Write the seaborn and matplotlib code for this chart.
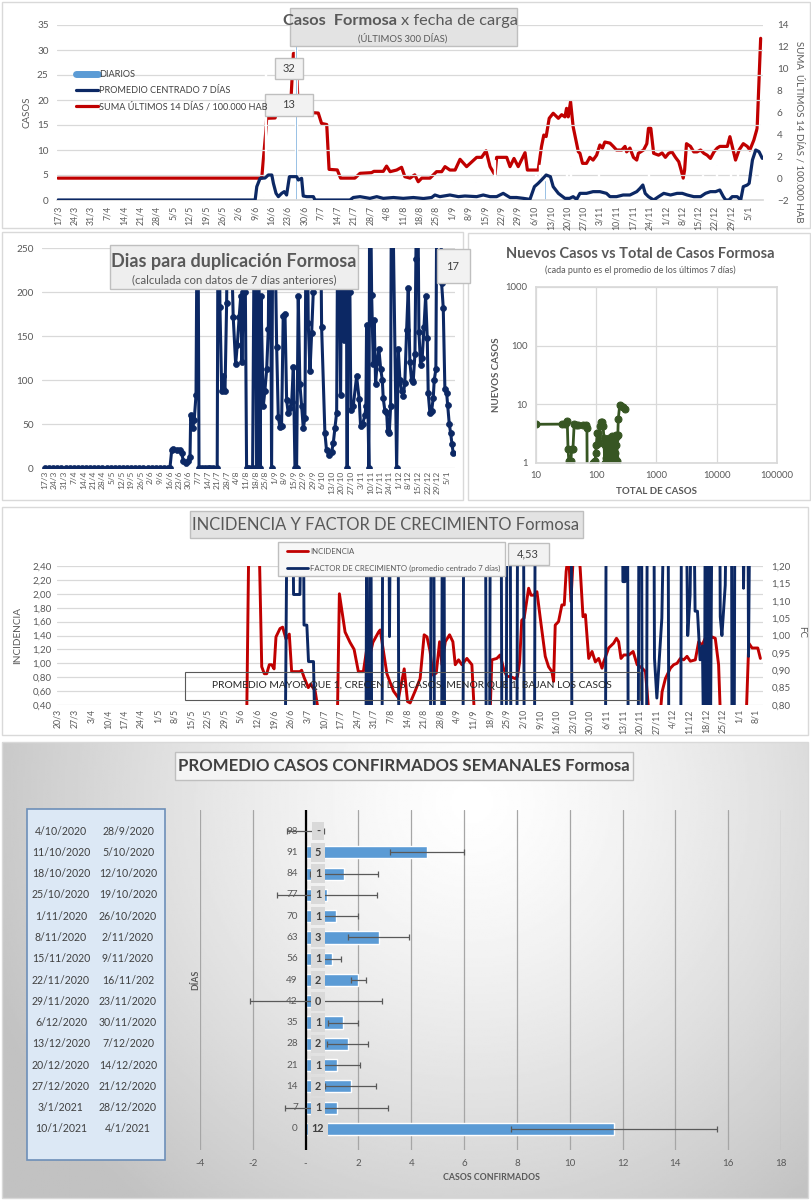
import numpy as np
import pandas as pd
import matplotlib
matplotlib.use("Agg")
import matplotlib.pyplot as plt
import matplotlib.ticker as mticker
import matplotlib.transforms as mtransforms
from matplotlib.patches import Rectangle
from matplotlib.lines import Line2D
import seaborn as sns

sns.set_theme(style="white")
plt.rcParams['font.family'] = ['Lato', 'DejaVu Sans']

# ====================== DATA ======================
# Panel 1 : Casos Formosa x fecha de carga (day 0 = 17/3/2020)
p1_start = "2020-03-17"
p1_bars = [(87.5, 0.7), (88.5, 26), (89.3, 6), (90.2, 1), (93.2, 4), (95, 1), (98.2, 6), (101.4, 32),
           (105.7, 4), (106.5, 1), (112, 1), (125.5, 1), (127, 1), (128, 1), (131, 1), (136, 1), (140, 2),
           (143, 1), (146, 1), (150, 1), (156, 1.5), (159, 2), (160, 1), (165, 1), (169, 4), (172, 1),
           (175, 1), (178, 3.7), (180, 1), (183, 1.5), (186, 8), (189, 1), (192, 1), (195, 1), (199, 2),
           (201, 1), (203.5, 5), (205.1, 7), (206.5, 7.7), (207.5, 4), (209.2, 7.7), (211, 3), (213, 2),
           (216.5, 6), (218.2, 6.8), (221, 1.5), (224.5, 2), (227, 1), (230.2, 7), (232, 2), (235, 1),
           (238.7, 2), (241, 1), (243, 1.5), (245.8, 2), (247, 1), (249.4, 2.5), (251.6, 9), (253, 1),
           (256.6, 2), (258, 1), (260.6, 4), (262, 1), (264.9, 3.7), (266.2, 3.7), (267.8, 3.7), (270, 1),
           (272, 1.5), (274.5, 5), (276, 1), (278.7, 2), (280.6, 7), (283, 1), (285, 1), (286.5, 7),
           (288, 1), (289.7, 6), (292, 1), (293.5, 2), (294.8, 2), (296.5, 5), (297.9, 3), (298.9, 15),
           (299.8, 20)]
p1_avg = [(0, 0), (84, 0), (84.7, 2.67), (86.1, 4.33), (88.2, 4.4), (89.6, 5.0), (91.1, 5.0), (91.8, 3.3),
          (92.9, 1.33), (93.9, 0.67), (95.3, 1.33), (96.4, 1.67), (97.4, 1.0), (98.6, 4.67), (101.7, 4.67),
          (102.4, 4.0), (103.8, 4.33), (104.5, 0.8), (106, 0.67), (108.8, 0.67), (109.5, 0), (124.4, 0),
          (125.8, 0.5), (128.7, 0.67), (132.9, 0.33), (135.8, 0.67), (138.6, 0.33), (142.9, 0.5),
          (147.1, 0.33), (151.4, 0.5), (155.7, 0.3), (159.2, 0.5), (160.6, 1.0), (162.7, 0.67), (167, 1.0),
          (170.6, 0.67), (173.4, 0.8), (178.4, 0.67), (181.2, 1.0), (184.1, 0.67), (186.9, 0.67),
          (189.7, 1.33), (192.6, 0.5), (195.4, 0.5), (198.3, 0.33), (201.1, 0.13), (203, 2.67),
          (204.6, 3.33), (206, 4.0), (208, 5.0), (209.8, 4.67), (211, 2.67), (213.2, 1.33), (216, 0.33),
          (218, 0.33), (219.5, 0.67), (221, 0.13), (222.4, 1.33), (225.2, 1.33), (228, 1.67), (230.9, 1.67),
          (233.7, 1.33), (235.2, 0.67), (238, 0.67), (240.8, 1.0), (243.7, 1.0), (246.6, 1.67), (248, 2.33),
          (249.2, 3.0), (250.2, 1.33), (251.6, 0.67), (253.8, 0), (255.9, 0.67), (258.1, 1.33), (261, 1.0),
          (263.8, 1.33), (266, 1.33), (268.1, 1.0), (270.9, 0.67), (273.8, 0.67), (275.9, 1.33), (278, 1.67),
          (280.2, 1.67), (282, 2.0), (283.5, 0.67), (284.5, 0), (285.9, 0), (287.3, 0.67), (289.4, 0.67),
          (290.9, 0), (292, 2.67), (293.7, 3.0), (294.5, 3.33), (295.9, 8.0), (297.3, 10.0), (298.7, 9.67),
          (300.1, 8.33)]
p1_sum = [(0, 0.0), (86.8, 0.0), (88.6, 4.4), (88.9, 5.47), (92.5, 5.5), (93.2, 6.07), (99.0, 6.1),
          (100.3, 11.4), (101.4, 11.4), (102.4, 6.07), (110.9, 5.95), (112.3, 5.0), (114.5, 4.9), (115.5, 0.8),
          (119, 0.75), (120.4, 0.0), (126.5, 0.0), (128.7, 0.44), (133.6, 0.5), (134.6, 0.62), (138.6, 0.62),
          (140, 1.1), (141.5, 0.59), (144.3, 0.74), (146.4, 0.99), (147.8, 0.13), (150, 0.0), (152, 0.3),
          (153.5, -0.33), (155, 0.0), (158.5, 0.0), (161.3, 0.59), (163.5, 0.59), (164.9, 1.05), (167, 0.74),
          (169.2, 0.74), (171.3, 1.72), (174.1, 1.05), (178.4, 1.9), (180.5, 1.9), (182.4, 2.5), (184.1, 1.05),
          (186.2, 0.28), (186.9, 1.9), (191.2, 1.9), (192.6, 1.05), (194.3, 1.8), (196.1, 1.05), (199, 2.33),
          (200, 0.74), (204.6, 0.74), (206, 2.87), (207, 3.94), (208, 3.8), (209.3, 5.47), (211, 5.93),
          (213.2, 5.47), (214.6, 5.8), (216, 5.6), (216.7, 6.38), (217.4, 5.6), (218.4, 7.0), (219.5, 4.7),
          (221.7, 2.42), (222.4, 2.27), (223.5, 1.35), (225.2, 1.35), (226.6, 1.9), (228, 1.65), (229.5, 2.1),
          (230.9, 3.03), (232, 2.75), (233, 3.3), (235.2, 3.2), (236.6, 2.9), (238, 2.57), (240.2, 2.57),
          (241.6, 2.9), (242.3, 2.4), (243.7, 2.75), (245.2, 1.9), (246.6, 1.65), (247.3, 2.27), (249.5, 2.57),
          (250.9, 3.15), (251.6, 4.55), (252.6, 4.55), (253.8, 2.27), (255.9, 2.1), (257.4, 2.3), (258.8, 1.9),
          (260.2, 2.27), (261.6, 2.4), (263.1, 1.9), (264.5, 1.5), (265.5, 0.74), (266.4, 0.0), (267, 0.74),
          (267.8, 3.15), (269.5, 2.9), (270.9, 2.4), (272.3, 2.4), (273.8, 2.57), (275.2, 2.27), (276.6, 2.1),
          (278, 1.8), (279.5, 2.4), (280.9, 2.75), (282, 2.9), (283.7, 2.9), (285.2, 2.9), (286.3, 3.79),
          (287.3, 2.9), (288.7, 1.65), (290.2, 2.57), (292, 3.15), (293.7, 2.9), (294.8, 2.57), (296.5, 3.48),
          (297.9, 4.55), (299.4, 12.78)]
p1_callouts = ["32", "13"]

# Panel 2 left : Dias para duplicación (day 0 = 17/3/2020)
p2_dup = [(0, 0), (3, 0), (6, 0), (9, 0), (12, 0), (15, 0), (18, 0), (21, 0), (24, 0), (27, 0), (30, 0),
          (33, 0), (36, 0), (39, 0), (42, 0), (45, 0), (48, 0), (51, 0), (54, 0), (57, 0), (60, 0), (63, 0),
          (66, 0), (69, 0), (72, 0), (75, 0), (78, 0), (81, 0), (84, 0), (87, 0), (90, 0), (91.4, 0),
          (92.7, 20), (93.9, 22), (96.3, 20), (98.8, 20), (100, 17), (101.2, 8), (102.9, 6), (104.8, 8),
          (106.1, 12), (106.6, 60), (108, 45), (109.2, 55), (110.5, 83), (111.7, 400), (112.7, 0), (115, 0),
          (117, 0), (119, 0), (121, 0), (123, 0), (126, 0), (126.8, 400), (128, 183), (129.3, 87),
          (130.4, 105), (131.7, 87), (132.9, 187), (134.1, 400), (137.7, 172), (139.5, 118), (140.7, 140),
          (142.1, 172), (143.2, 195), (144.1, 120), (145.1, 200), (146.6, 200), (147.5, 0), (149, 0),
          (151.9, 0), (153.6, 400), (154.8, 0), (156, 400), (157.3, 0), (158, 195), (159.7, 70), (160.9, 88),
          (162.2, 112), (163.4, 158), (164.6, 400), (165.8, 0), (167, 400), (169.5, 138), (170.7, 58),
          (171.9, 47), (173.1, 48), (174.3, 173), (175.6, 175), (176.8, 77), (178, 62), (179.2, 68),
          (180.5, 75), (181.7, 115), (182.9, 0), (184.1, 0), (185.3, 196), (186.5, 95), (187.8, 70),
          (189, 45), (190.2, 57), (191.4, 400), (192.6, 165), (193.9, 110), (195.1, 153), (196.3, 200),
          (197.5, 400), (199.5, 250), (201, 400), (202.4, 160), (204.8, 40), (206, 20), (208, 15),
          (209.7, 18), (210.9, 28), (212.1, 45), (213.4, 63), (214.6, 400), (216.3, 83), (217.5, 400),
          (218.7, 145), (220, 400), (221.1, 0), (221.9, 400), (223.1, 200), (223.8, 66), (225.5, 70),
          (228, 104), (229.9, 78), (230.9, 48), (232.4, 50), (234.1, 60), (234.8, 70), (235.3, 163),
          (237, 0), (237.7, 400), (239, 197), (240.2, 118), (240.9, 168), (241.9, 96), (243.1, 120),
          (244.3, 135), (245.6, 113), (246.8, 100), (247.5, 79), (248.7, 65), (250, 63), (250.7, 42),
          (251.9, 40), (252.9, 70), (253.6, 400), (257.3, 0), (258.5, 135), (259.7, 100), (260.9, 88),
          (262.1, 82), (263.3, 97), (264.6, 157), (265.8, 205), (267, 120), (268.2, 100), (269.4, 98),
          (270.7, 130), (271.4, 237), (272.4, 400), (273.6, 155), (274.8, 117), (276, 125), (277.3, 160),
          (278.5, 195), (279.7, 148), (280.4, 85), (281.6, 63), (282.9, 65), (284.1, 80), (284.8, 100),
          (286, 112), (287, 400), (289, 400), (290.2, 210), (291.4, 182), (292.6, 90), (293.9, 85),
          (294.6, 72), (295.8, 50), (296.8, 40), (297.8, 27), (298.7, 17)]
p2_callout = "17"

# Panel 2 right : Nuevos casos vs total de casos (log-log)
p2_total = [10, 27, 30, 32, 33, 34, 35, 37, 38, 39, 41, 43, 46, 50, 60, 68, 70, 70, 71,
            88, 92, 96, 98, 100, 104, 108, 112, 116, 120, 125, 130, 134, 138, 141, 143, 145, 148, 150,
            153, 156, 158, 160, 163, 166, 169, 172, 175, 178, 181, 184, 187, 190, 193, 196, 199, 202,
            205, 208, 212, 216, 220, 224, 228, 232, 245, 262, 280, 300]
p2_nuevos = [4.57, 4.6, 4.7, 4.9, 5.1, 1.75, 1.1, 1.05, 1.1, 1.7, 1.7, 4.6, 4.5, 4.5, 4.5, 4.4, 4.2, 3.6, 0.3,
             1.0, 1.05, 1.1, 1.5, 2.0, 3.2, 3.3, 2.2, 4.2, 5.0, 5.0, 4.2, 2.7, 1.0, 2.0, 1.2, 2.5, 1.0, 0.6,
             1.6, 1.1, 2.3, 1.3, 2.7, 1.0, 0.7, 1.5, 2.0, 1.2, 2.9, 2.7, 1.0, 1.8, 2.8, 1.4, 0.8, 1.5,
             2.6, 1.2, 3.0, 2.0, 1.1, 2.9, 3.0, 5.56, 9.75, 9.3, 8.9, 8.3]

# Panel 3 : Incidencia y factor de crecimiento (day 0 = 20/3/2020)
p3_start = "2020-03-20"
p3_inc = [(79.5, 0.3), (80.3, 2.6), (84.8, 2.6), (85.8, 0.95), (86.9, 0.85), (87.9, 0.85), (89.0, 0.98),
          (90.0, 0.98), (91.0, 0.92), (91.8, 1.38), (93.5, 1.50), (94.6, 1.52), (96.0, 1.35), (97.4, 1.42),
          (98.4, 0.88), (101.9, 0.88), (102.6, 0.90), (103.6, 0.80), (105.4, 0.65), (106.4, 0.70),
          (108.3, 0.60), (109.7, 0.30), (117.7, 0.30), (118.5, 2.00), (120.9, 1.45), (123.0, 1.30),
          (124.7, 1.20), (126.5, 0.88), (128.6, 0.88), (130.0, 1.20), (131.4, 1.12), (132.6, 1.30),
          (135.0, 1.45), (135.7, 1.48), (138.5, 0.85), (139.6, 0.75), (141.3, 0.60), (143.4, 0.50),
          (145.8, 0.92), (147.2, 0.45), (148.3, 0.43), (150.4, 0.60), (152.5, 0.78), (154.2, 1.41),
          (155.4, 1.38), (156.7, 1.17), (157.9, 0.83), (159.3, 0.86), (160.7, 1.31), (161.7, 0.98),
          (163.1, 1.31), (164.9, 1.41), (166.3, 1.31), (167.3, 0.98), (168.7, 1.05), (170.1, 0.98),
          (172.2, 1.07), (174.3, 0.98), (175.3, 0.30), (182.0, 0.30), (182.7, 1.05), (184.8, 1.07),
          (186.2, 1.12), (187.6, 0.93), (189.0, 0.81), (190.4, 0.81), (192.5, 0.78), (193.5, 0.81),
          (194.4, 1.02), (195.3, 1.62), (196.3, 1.65), (198.2, 2.08), (199.2, 1.98), (200.3, 1.98),
          (201.7, 2.03), (203.1, 1.65), (205.2, 1.10), (206.6, 0.95), (208.0, 0.88), (208.7, 0.74),
          (209.4, 1.55), (210.8, 1.60), (212.2, 1.84), (213.2, 1.84), (214.0, 2.32), (215.0, 2.60),
          (216.0, 1.89), (217.1, 2.60), (219.2, 2.60), (219.9, 2.37), (221.1, 1.67), (222.1, 1.70),
          (223.5, 1.07), (224.9, 1.17), (226.3, 1.02), (227.7, 1.07), (229.1, 0.93), (229.8, 1.02),
          (231.9, 1.22), (234.0, 1.29), (235.2, 1.36), (236.1, 1.31), (237.1, 1.07), (238.3, 1.12),
          (240.4, 1.12), (242.2, 1.17), (243.9, 0.98), (246.0, 0.93), (247.4, 0.88), (248.8, 0.30),
          (253.7, 0.30), (254.4, 0.59), (255.8, 0.78), (257.9, 0.93), (259.3, 0.98), (260.7, 1.00),
          (262.1, 1.07), (263.5, 1.05), (264.9, 1.10), (266.3, 1.03), (268.4, 1.05), (269.8, 1.31),
          (271.2, 1.26), (272.6, 1.36), (274.0, 1.31), (275.4, 1.38), (276.8, 1.36), (278.2, 0.98),
          (278.9, 0.30), (289.9, 0.30), (290.9, 1.29), (292.3, 1.22), (293.7, 1.22), (294.7, 1.22),
          (295.8, 1.07)]
p3_fc = [(95.5, 0.5), (96.6, 1.5), (98.8, 1.5), (99.2, 1.118), (101.9, 1.118), (102.6, 1.5), (103.3, 1.5),
         (103.6, 1.03), (104.8, 1.03), (105.5, 0.925), (107.6, 0.925), (108.8, 0.5), (129.6, 0.5),
         (130.1, 1.5), (130.6, 0.5), (131.3, 0.5), (131.7, 1.5), (132.2, 0.5), (136.4, 0.5), (136.8, 1.5),
         (139.3, 1.5), (139.6, 0.997), (140.1, 1.5), (143.2, 1.5), (143.6, 0.5), (156.8, 0.5), (157.2, 1.5),
         (158.2, 1.5), (158.6, 0.5), (161.5, 0.5), (161.9, 1.5), (162.5, 1.5), (162.9, 0.5), (170.5, 0.5),
         (170.9, 1.5), (180.0, 1.5), (180.4, 0.5), (181.7, 0.5), (182.1, 1.5), (186.6, 1.5), (187.0, 0.5),
         (188.7, 0.5), (189.1, 1.5), (190.4, 1.5), (190.8, 0.5), (193.2, 0.5), (193.6, 1.5), (196.0, 1.5),
         (196.4, 0.5), (200.6, 0.5), (201.0, 1.5), (216.1, 1.5), (216.5, 0.5), (230.5, 0.5), (230.9, 1.5),
         (237.6, 1.5), (237.9, 1.155), (238.8, 1.155), (239.2, 1.5), (239.8, 1.5), (240.2, 0.5),
         (244.3, 0.5), (244.7, 1.5), (245.7, 1.5), (246.1, 0.5), (247.8, 0.5), (248.2, 1.5), (250.9, 1.5),
         (251.2, 0.934), (252.2, 0.82), (254.3, 1.05), (255.5, 1.5), (256.9, 1.5), (257.3, 0.5),
         (262.2, 0.5), (262.6, 1.5), (264.4, 1.5), (265.2, 1.0), (266.2, 1.117), (266.9, 1.5), (267.6, 1.5),
         (268.3, 1.07), (269.3, 1.07), (270.4, 0.93), (271.4, 0.97), (272.2, 0.5), (272.6, 1.5),
         (273.3, 0.5), (273.9, 1.5), (274.6, 0.5), (275.5, 1.5), (278.6, 1.5), (278.9, 1.054), (279.6, 1.0),
         (281.0, 1.145), (281.7, 1.5), (283.6, 1.5), (283.9, 0.5), (284.7, 0.5), (285.1, 1.5), (288.4, 1.5),
         (288.7, 1.136), (289.4, 1.5), (290.5, 1.5), (290.8, 0.94), (291.5, 1.5), (295.8, 1.5)]
p3_callout = "4,53"
p3_note = "PROMEDIO MAYOR QUE 1, CRECEN LOS CASOS, MENOR QUE 1, BAJAN LOS CASOS"

# Panel 4 : Promedio casos confirmados semanales
p4_dias = ["98", "91", "84", "77", "70", "63", "56", "49", "42", "35", "28", "21", "14", "7", "0"]
p4_prom = [0.0, 4.6, 1.44, 0.82, 1.14, 2.76, 1.0, 2.0, 0.41, 1.41, 1.6, 1.17, 1.7, 1.17, 11.67]
p4_err = [0.7, 1.4, 1.29, 1.9, 0.86, 1.15, 0.35, 0.3, 2.5, 0.58, 0.78, 0.9, 0.95, 1.95, 3.9]
p4_etiq = ["-", "5", "1", "1", "1", "3", "1", "2", "0", "1", "2", "1", "2", "1", "12"]
p4_fin = ["4/10/2020", "11/10/2020", "18/10/2020", "25/10/2020", "1/11/2020", "8/11/2020", "15/11/2020",
          "22/11/2020", "29/11/2020", "6/12/2020", "13/12/2020", "20/12/2020", "27/12/2020", "3/1/2021",
          "10/1/2021"]
p4_ini = ["28/9/2020", "5/10/2020", "12/10/2020", "19/10/2020", "26/10/2020", "2/11/2020", "9/11/2020",
          "16/11/202", "23/11/2020", "30/11/2020", "7/12/2020", "14/12/2020", "21/12/2020", "28/12/2020",
          "4/1/2021"]

# ====================== STYLE ======================
W, H = 812, 1200
C_BAR = "#5b9bd5"
C_NAVY = "#0c2864"
C_RED = "#c00000"
C_GREEN = "#375623"
C_GRID = "#d9d9d9"
C_TXT = "#595959"

fig = plt.figure(figsize=(W / 100, H / 100), dpi=100)
fig.patch.set_facecolor("white")


def rect(x0, y0, x1, y1):
    return [x0 / W, 1 - y1 / H, (x1 - x0) / W, (y1 - y0) / H]


def box(x0, y0, x1, y1, fc="white", ec="#d9d9d9", lw=1.0, z=-2):
    fig.add_artist(Rectangle((x0 / W, 1 - y1 / H), (x1 - x0) / W, (y1 - y0) / H,
                             transform=fig.transFigure, fc=fc, ec=ec, lw=lw, zorder=z))


def ftext(x, y, s, **kw):
    kw.setdefault("color", C_TXT)
    kw.setdefault("zorder", 6)
    fig.text(x / W, 1 - y / H, s, **kw)


def to_dates(start, days):
    return pd.to_datetime(start) + pd.to_timedelta(np.asarray(days, dtype=float), unit="D")


def unzip(pairs):
    a = np.array(pairs, dtype=float)
    return a[:, 0], a[:, 1]


def date_fmt(ax, start, end, size):
    ticks = pd.date_range(start, end, freq="7D")
    ax.set_xticks(ticks)
    ax.set_xticklabels([f"{d.day}/{d.month}" for d in ticks], rotation=90, fontsize=size, color=C_TXT)


def clean(ax):
    for s in ax.spines.values():
        s.set_visible(False)
    ax.set_xlabel("")
    ax.set_ylabel("")


comma = mticker.FuncFormatter(lambda v, p: f"{v:.2f}".replace(".", ","))

# panel frames
box(2, 2, 810, 228)
box(2, 232, 463, 500)
box(468, 233, 810, 500)
box(2, 507, 808, 735)

# ====================== PANEL 1 ======================
ax1 = fig.add_axes(rect(57, 25, 763, 200))
ax1r = ax1.twinx()
ax1.set_zorder(ax1r.get_zorder() + 1)
ax1.patch.set_visible(False)

d, v = unzip(p1_sum)
sns.lineplot(x=to_dates(p1_start, d), y=v, ax=ax1r, color=C_RED, lw=2.3)
d, v = unzip(p1_bars)
ax1.bar(to_dates(p1_start, d), v, width=0.45, color=C_BAR, zorder=2)
d, v = unzip(p1_avg)
sns.lineplot(x=to_dates(p1_start, d), y=v, ax=ax1, color=C_NAVY, lw=2.3, zorder=3)

x0, x1 = to_dates(p1_start, [-0.43, 300.4])
ax1.set_xlim(x0, x1)
ax1.set_ylim(0, 35)
ax1r.set_ylim(-2, 14)
ax1.set_yticks(range(0, 36, 5))
ax1r.set_yticks(range(-2, 15, 2))
ax1.yaxis.grid(True, color=C_GRID, lw=0.9)
ax1.set_axisbelow(True)
clean(ax1)
clean(ax1r)
ax1.spines["bottom"].set_visible(True)
ax1.spines["bottom"].set_color(C_GRID)
date_fmt(ax1, "2020-03-17", "2021-01-05", 6.3)
ax1.tick_params(axis="x", length=3, color=C_GRID, pad=1)
ax1.tick_params(axis="y", length=0, labelsize=7.2, labelcolor=C_TXT, pad=6)
ax1r.tick_params(axis="y", length=0, labelsize=7.2, labelcolor=C_TXT, pad=10)

handles = [Line2D([], [], color=C_BAR, lw=5),
           Line2D([], [], color=C_NAVY, lw=2.3),
           Line2D([], [], color=C_RED, lw=2.3)]
leg = fig.legend(handles, ["DIARIOS", "PROMEDIO CENTRADO 7 DÍAS", "SUMA ÚLTIMOS 14 DÍAS / 100.000 HAB"],
                 loc="upper left", bbox_to_anchor=(68 / W, 1 - 62 / H), frameon=False, fontsize=6.6,
                 handlelength=2.4, handletextpad=0.1, labelspacing=0.75, labelcolor="#404040")

ftext(27, 112, "CASOS", rotation=90, ha="center", va="center", fontsize=7)
ftext(799, 132, "SUMA  ÚLTIMOS 14 DÍAS / 100.000 HAB", rotation=270, ha="center", va="center", fontsize=7)

box(290, 8, 517, 46, fc="#e3e3e3", ec="#bfbfbf", z=4)
ftext(397, 21, "Casos  Formosa", ha="right", va="center", fontsize=11.8, fontweight="bold")
ftext(401, 21, "x fecha de carga", ha="left", va="center", fontsize=11.8)
ftext(403, 38, "(ÚLTIMOS 300 DÍAS)", ha="center", va="center", fontsize=6.8)

box(275, 58, 303, 79, fc="#f2f2f2", ec="#bfbfbf", z=4)
ftext(289, 69, p1_callouts[0], ha="center", va="center", fontsize=8, color="#404040")
box(265, 94, 313, 116, fc="#f2f2f2", ec="#bfbfbf", z=4)
ftext(289, 105, p1_callouts[1], ha="center", va="center", fontsize=8, color="#404040")

# ====================== PANEL 2 LEFT ======================
ax2 = fig.add_axes(rect(42, 248, 455, 468))
d, v = unzip(p2_dup)
sns.lineplot(x=to_dates(p1_start, d), y=v, ax=ax2, color=C_NAVY, lw=2.2, marker="o",
             markersize=4.3, markeredgecolor=C_NAVY, markeredgewidth=0.5)
x0, x1 = to_dates(p1_start, [-2.2, 300])
ax2.set_xlim(x0, x1)
ax2.set_ylim(0, 250)
ax2.set_yticks(range(0, 251, 50))
ax2.yaxis.grid(True, color=C_GRID, lw=0.9)
ax2.set_axisbelow(True)
clean(ax2)
date_fmt(ax2, "2020-03-17", "2021-01-05", 6.0)
ax2.tick_params(axis="x", length=0, pad=2)
ax2.tick_params(axis="y", length=0, labelsize=7.2, labelcolor=C_TXT, pad=6)

box(110, 245, 358, 289, fc="#eeeeee", ec="#bfbfbf", z=4)
ftext(234, 261, "Dias para duplicación Formosa", ha="center", va="center", fontsize=13,
      fontweight="bold")
ftext(234, 280, "(calculada con datos de 7 días anteriores)", ha="center", va="center", fontsize=8.2)
box(437, 249, 470, 283, fc="#f2f2f2", ec="#bfbfbf", z=4)
ftext(453, 267, p2_callout, ha="center", va="center", fontsize=8, color="#404040")

# ====================== PANEL 2 RIGHT ======================
ax3 = fig.add_axes(rect(536, 287, 777, 463))
sns.lineplot(x=p2_total, y=p2_nuevos, ax=ax3, sort=False, color=C_GREEN, lw=2.0, marker="o",
             markersize=5, markeredgecolor=C_GREEN)
ax3.set_xscale("log")
ax3.set_yscale("log")
ax3.set_xlim(10, 100000)
ax3.set_ylim(1, 1000)
ax3.xaxis.set_major_formatter(mticker.FuncFormatter(lambda v, p: f"{int(round(v))}"))
ax3.yaxis.set_major_formatter(mticker.FuncFormatter(lambda v, p: f"{int(round(v))}"))
ax3.xaxis.set_minor_locator(mticker.NullLocator())
ax3.yaxis.set_minor_locator(mticker.NullLocator())
ax3.grid(True, which="major", color=C_GRID, lw=0.9)
ax3.set_axisbelow(True)
clean(ax3)
for s in ax3.spines.values():
    s.set_visible(True)
    s.set_color(C_GRID)
ax3.tick_params(length=0, labelsize=6.8, labelcolor=C_TXT, pad=6)
ftext(640, 254, "Nuevos Casos vs Total de Casos Formosa", ha="center", va="center", fontsize=10.5,
      fontweight="bold")
ftext(640, 270, "(cada punto es el promedio de los últimos 7 días)", ha="center", va="center", fontsize=6.5)
ftext(657, 492, "TOTAL DE CASOS", ha="center", va="center", fontsize=7, fontweight="bold")
ftext(497, 375, "NUEVOS CASOS", rotation=90, ha="center", va="center", fontsize=7, fontweight="bold")

# ====================== PANEL 3 ======================
ax5 = fig.add_axes(rect(57, 566, 763, 705))
ax5r = ax5.twinx()
d, v = unzip(p3_inc)
sns.lineplot(x=to_dates(p3_start, d), y=v, ax=ax5, color=C_RED, lw=2.1)
d, v = unzip(p3_fc)
sns.lineplot(x=to_dates(p3_start, d), y=v, ax=ax5r, color=C_NAVY, lw=2.1)
x0, x1 = to_dates(p3_start, [-0.42, 296.9])
ax5.set_xlim(x0, x1)
ax5.set_ylim(0.4, 2.4)
ax5r.set_ylim(0.8, 1.2)
ax5.set_yticks(np.arange(0.4, 2.41, 0.2))
ax5r.set_yticks(np.arange(0.8, 1.201, 0.05))
ax5.yaxis.set_major_formatter(comma)
ax5r.yaxis.set_major_formatter(comma)
ax5.yaxis.grid(True, color=C_GRID, lw=0.9)
ax5.set_axisbelow(True)
clean(ax5)
clean(ax5r)
date_fmt(ax5, "2020-03-20", "2021-01-08", 6.3)
ax5.tick_params(axis="x", length=0, pad=3)
ax5.tick_params(axis="y", length=0, labelsize=7, labelcolor=C_TXT, pad=4)
ax5r.tick_params(axis="y", length=0, labelsize=7, labelcolor=C_TXT, pad=6)

box(190, 511, 583, 538, fc="#e3e3e3", ec="#bfbfbf", z=4)
ftext(386, 525, "INCIDENCIA Y FACTOR DE CRECIMIENTO Formosa", ha="center", va="center", fontsize=11.9)
box(278, 542, 505, 576, fc="#f7f7f7", ec="#bfbfbf", z=4)
fig.add_artist(Line2D([287 / W, 308 / W], [1 - 551 / H, 1 - 551 / H], color=C_RED, lw=2, zorder=5))
fig.add_artist(Line2D([287 / W, 308 / W], [1 - 568 / H, 1 - 568 / H], color=C_NAVY, lw=2, zorder=5))
ftext(310, 551, "INCIDENCIA", ha="left", va="center", fontsize=5.6)
ftext(310, 568, "FACTOR DE CRECIMIENTO (promedio centrado 7 días)", ha="left", va="center", fontsize=5.6)
box(508, 543, 549, 565, fc="#f2f2f2", ec="#bfbfbf", z=4)
ftext(528, 554, p3_callout, ha="center", va="center", fontsize=8, color="#404040")
fig.add_artist(Rectangle((185 / W, 1 - 700 / H), (640 - 185) / W, 28 / H, transform=fig.transFigure,
                         fill=False, ec="#595959", lw=0.8, zorder=5))
ftext(412, 686, p3_note, ha="center", va="center", fontsize=7.4, color="#262626")
ftext(18, 636, "INCIDENCIA", rotation=90, ha="center", va="center", fontsize=7.2)
ftext(802, 632, "FC", rotation=270, ha="center", va="center", fontsize=7)

# ====================== PANEL 4 ======================
axbg = fig.add_axes(rect(2, 742, 808, 1198), zorder=-1)
gx, gy = np.meshgrid(np.linspace(0, 806, 400), np.linspace(0, 456, 240))
r = np.sqrt(((gx - 470) / 520) ** 2 + ((gy - 60) / 520) ** 2)
shade = 1.0 - 0.24 * np.clip(r, 0, 1) ** 1.3
axbg.imshow(shade, cmap="gray", vmin=0, vmax=1, aspect="auto", extent=(0, 1, 0, 1), origin="upper")
axbg.set_axis_off()
box(2, 742, 808, 1198, fc="none", ec="#d9d9d9", z=1)

ax4 = fig.add_axes(rect(200, 809.6, 781, 1150.4))
ax4.patch.set_alpha(0)
sns.barplot(x=p4_prom, y=p4_dias, order=p4_dias, orient="h", ax=ax4, color=C_BAR, saturation=1,
            width=0.57, errorbar=None, zorder=2)
pos = np.arange(len(p4_dias))
ax4.errorbar(p4_prom, pos, xerr=p4_err, fmt="none", ecolor="#595959", elinewidth=0.9, capsize=2.5,
             capthick=0.9, zorder=4)
ax4.set_xlim(-4, 18)
ax4.set_xticks(range(-4, 19, 2))
ax4.xaxis.set_major_formatter(mticker.FuncFormatter(lambda v, p: "-" if abs(v) < 1e-9 else f"{int(v)}"))
ax4.xaxis.grid(True, color="#a6a6a6", lw=0.9)
ax4.set_axisbelow(True)
ax4.axvline(0, color="black", lw=1.6, zorder=3)
ax4.set_yticks([])
clean(ax4)
ax4.tick_params(axis="x", length=0, labelsize=7, labelcolor=C_TXT, pad=6)
for i, (lab, dia) in enumerate(zip(p4_etiq, p4_dias)):
    ax4.text(0.47, i, lab, ha="center", va="center", fontsize=7.8, fontweight="bold", color="#404040",
             zorder=5, bbox=dict(boxstyle="square,pad=0.35", fc="#d9d9d9", ec="none"))
    ax4.text(-0.3, i, dia, ha="right", va="center", fontsize=7.2, color=C_TXT, zorder=5)

box(27, 809, 165, 1160, fc="#dce8f5", ec="#6d8fb8", lw=1.2, z=1)
tr = mtransforms.blended_transform_factory(fig.transFigure, ax4.transData)
for i, (a, b) in enumerate(zip(p4_fin, p4_ini)):
    fig.text(61 / W, i, a, transform=tr, ha="center", va="center", fontsize=7.6, color="#404040", zorder=6)
    fig.text(128 / W, i, b, transform=tr, ha="center", va="center", fontsize=7.6, color="#404040", zorder=6)

box(175, 752, 633, 780, fc="#f4f4f4", ec="#bfbfbf", z=4)
ftext(404, 766, "PROMEDIO CASOS CONFIRMADOS SEMANALES Formosa", ha="center", va="center", fontsize=12.1,
      fontweight="bold", color="#404040")
ftext(491, 1178, "CASOS CONFIRMADOS", ha="center", va="center", fontsize=6.3, fontweight="bold")
ftext(196, 980, "DÍAS", rotation=90, ha="center", va="center", fontsize=6.3, fontweight="bold")

fig.savefig("out.png", dpi=100)
